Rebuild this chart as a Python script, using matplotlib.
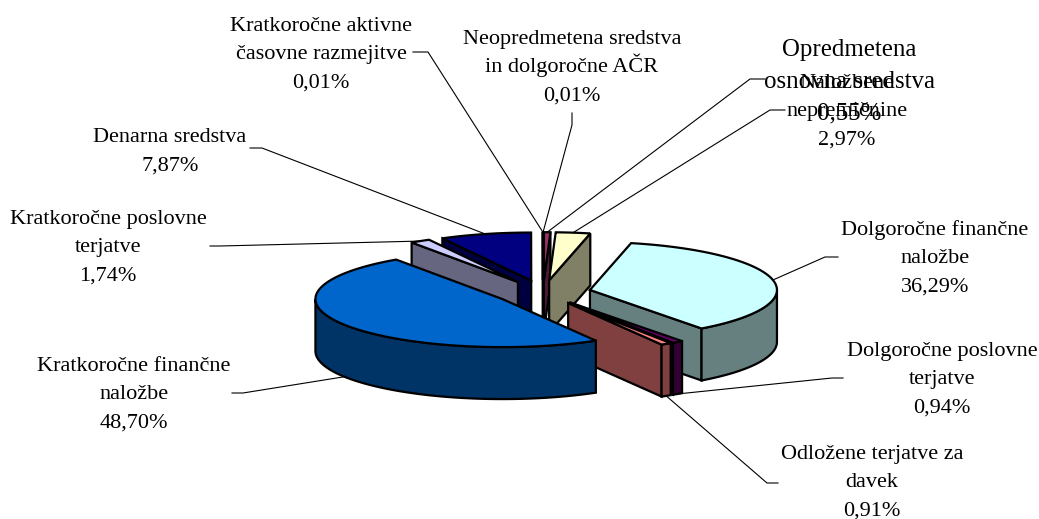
import numpy as np
import matplotlib
matplotlib.use('Agg')
import matplotlib.pyplot as plt
from matplotlib.patches import Polygon

# Slices, clockwise from twelve o'clock
names = ['Neopredmetena sredstva\nin dolgoročne AČR', 'Opredmetena\nosnovna sredstva',
         'Naložbene\nnepremičnine', 'Dolgoročne finančne\nnaložbe',
         'Dolgoročne poslovne\nterjatve', 'Odložene terjatve za\ndavek',
         'Kratkoročne finančne\nnaložbe', 'Kratkoročne poslovne\nterjatve',
         'Denarna sredstva', 'Kratkoročne aktivne\nčasovne razmejitve']
values = [0.01, 0.55, 2.97, 36.29, 0.94, 0.91, 48.70, 1.74, 7.87, 0.01]
colors = ['#9999FF', '#993366', '#FFFFCC', '#CCFFFF', '#660066',
          '#FF8080', '#0066CC', '#CCCCFF', '#000080', '#FF00FF']

# Label centre x and first baseline, and leader elbows, in picture pixels
label_pos = [(572, 44), (849, 56), (847, 88), (935, 235), (942, 356),
             (872, 459), (134, 371), (108, 224), (170, 142), (321, 31)]
label_scale = [1, 1.12, 1, 1, 1, 1, 1, 1, 1, 1]
leader_pts = [[(572, 113), (572, 125)], [(765, 79), (750, 79)], [(785, 110), (770, 110)],
              [(838, 257), (825, 257)], [(843, 378), (832, 378)], [(778, 483), (767, 483)],
              [(232, 393), (243, 393)], [(210, 246), (220, 246)], [(250, 148), (262, 148)],
              [(413, 52), (428, 52)]]

# Projection of the tilted pie
cx, cy = 543, 292.5
rx, ry = 187, 48
depth = 52
explode = 48

plt.rcParams['font.family'] = ['Liberation Serif', 'DejaVu Serif']

def dark(c):
    return tuple(v / 2 for v in matplotlib.colors.to_rgb(c))

def rim(ox, oy, ang, down=0):
    a = np.radians(ang)
    return ox + rx * np.sin(a), oy - ry * np.cos(a) + down

edges = np.cumsum([0] + values) / sum(values) * 360
slices = []
for i in range(len(values)):
    a0, a1 = edges[i], edges[i + 1]
    mid = np.radians((a0 + a1) / 2)
    ox = cx + explode * np.sin(mid)
    oy = cy - explode * ry / rx * np.cos(mid)
    slices.append((oy + ry * max(0, -np.cos(np.radians(a0)), -np.cos(np.radians(a1)),
                                 1 if a0 < 180 < a1 else 0), i, a0, a1, ox, oy))

fig = plt.figure(figsize=(10.39, 5.19), dpi=100)
ax = fig.add_axes([0, 0, 1, 1])
ax.set_xlim(0, 1039)
ax.set_ylim(519, 0)
ax.axis('off')

style = dict(edgecolor='black', linewidth=1.6, joinstyle='miter')

# Leaders sit behind the pie, so they stop at its edge
for _, i, a0, a1, ox, oy in slices:
    m = (a0 + a1) / 2
    end = rim(ox, oy, m, depth if 90 < m < 270 else 0)
    pts = leader_pts[i] + [end]
    ax.plot([p[0] for p in pts], [p[1] for p in pts], color='black', lw=0.8, zorder=1)

# Back to front
for z, (_, i, a0, a1, ox, oy) in enumerate(sorted(slices, key=lambda s: (s[0], s[1]))):
    side = dark(colors[i])
    for ang, normal in [(a0, a0 - 90), (a1, a1 + 90)]:
        if np.cos(np.radians(normal)) < 0:
            x, y = rim(ox, oy, ang)
            ax.add_patch(Polygon([(ox, oy), (x, y), (x, y + depth), (ox, oy + depth)],
                                 facecolor=side, zorder=2 + z, **style))
    f0, f1 = max(a0, 90), min(a1, 270)
    if f1 > f0:
        t = np.linspace(f0, f1, 60)
        upper = [rim(ox, oy, v) for v in t]
        lower = [rim(ox, oy, v, depth) for v in t[::-1]]
        ax.add_patch(Polygon(upper + lower, facecolor=side, zorder=2 + z, **style))
    t = np.linspace(a0, a1, 120)
    ax.add_patch(Polygon([(ox, oy)] + [rim(ox, oy, v) for v in t],
                         facecolor=colors[i], zorder=2 + z, **style))

# One text per line, so a caron can't push the line spacing around
fs = 16
step = 28.3
for i, (name, (x, y)) in enumerate(zip(names, label_pos)):
    pct = f'{values[i]:.2f}%'.replace('.', ',')
    scale = label_scale[i]
    for k, line in enumerate((name + '\n' + pct).split('\n')):
        ax.text(x, y + k * step * scale, line, fontsize=fs * scale, ha='center',
                va='baseline', zorder=30)

fig.savefig('out.png', dpi=100)
